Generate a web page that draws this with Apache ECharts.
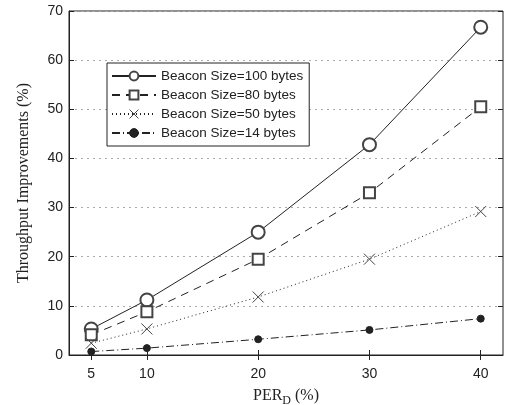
<!DOCTYPE html>
<html><head><meta charset="utf-8">
<script src="https://cdn.jsdelivr.net/npm/echarts@6/dist/echarts.min.js"></script>
<style>html,body{margin:0;padding:0;background:#fff}#c{width:505px;height:405px}</style>
</head><body><div id="c"></div>
<script>
const per = [5, 10, 20, 30, 40];
const xTicks = [5, 10, 20, 30, 40];
const yTicks = [0, 10, 20, 30, 40, 50, 60, 70];
const names = ['Beacon Size=100 bytes', 'Beacon Size=80 bytes', 'Beacon Size=50 bytes', 'Beacon Size=14 bytes'];
const b100 = [5.3, 11.2, 25.0, 42.8, 66.7];
const b80 = [4.1, 8.8, 19.5, 33.0, 50.5];
const b50 = [2.4, 5.3, 11.8, 19.5, 29.2];
const b14 = [0.7, 1.4, 3.2, 5.1, 7.4];

const chart = echarts.init(document.getElementById('c'), null, {renderer: 'canvas'});
const ink = '#222';
function pts(v){ return per.map((x,i)=>[x, v[i]]); }
const xPath = 'path://M0,0L10,10M10,0L0,10';
chart.setOption({
  animation: false,
  backgroundColor: '#fff',
  grid: {left: 69, right: 2, top: 11, bottom: 50, show: true, borderColor: ink, borderWidth: 1,
         containLabel: false, outerBoundsMode: 'none'},
  legend: {
    orient: 'vertical', left: 107, top: 63,
    backgroundColor: '#fff', borderColor: ink, borderWidth: 1,
    padding: [6, 6, 6, 4], itemGap: 5, itemWidth: 44, itemHeight: 11,
    itemStyle: {borderWidth: 1},
    textStyle: {fontFamily: 'Liberation Sans', fontSize: 13.5, color: ink},
    data: names
  },
  xAxis: [{
    type: 'value', min: 3, max: 42,
    axisLine: {lineStyle: {color: ink}},
    axisTick: {inside: true, length: 5, lineStyle: {color: ink}, customValues: xTicks},
    axisLabel: {customValues: xTicks, fontFamily: 'Liberation Sans', fontSize: 14, color: ink, margin: 12},
    splitLine: {show: false},
    name: 'PER{sub|D} (%)', nameLocation: 'middle', nameGap: 30,
    nameTextStyle: {fontFamily: 'Liberation Serif', fontSize: 16, color: ink,
      rich: {sub: {fontFamily: 'Liberation Serif', fontSize: 12, color: ink, verticalAlign: 'bottom', padding: [10,0,0,0]}}}
  }, {
    type: 'value', min: 3, max: 42, position: 'top',
    axisLine: {show: false},
    axisTick: {inside: true, length: 5, lineStyle: {color: ink}, customValues: xTicks},
    axisLabel: {show: false}, splitLine: {show: false}
  }],
  yAxis: [{
    type: 'value', min: 0, max: 70, interval: 10,
    axisLine: {show: true, lineStyle: {color: ink}},
    axisTick: {show: true, inside: true, length: 5, lineStyle: {color: ink}},
    axisLabel: {fontFamily: 'Liberation Sans', fontSize: 14, color: ink, margin: 6},
    splitLine: {show: true, lineStyle: {color: '#aaa', type: [2, 4], width: 1}},
    name: 'Throughput Improvements (%)', nameLocation: 'middle', nameGap: 37,
    nameTextStyle: {fontFamily: 'Liberation Serif', fontSize: 16, color: ink}
  }, {
    type: 'value', min: 0, max: 70, interval: 10, position: 'right',
    axisLine: {show: false},
    axisTick: {show: true, inside: true, length: 5, lineStyle: {color: ink}},
    axisLabel: {show: false}, splitLine: {show: false}
  }],
  series: [
    {name: names[0], type: 'line', data: pts(b100), symbol: 'emptyCircle', symbolSize: 13,
     lineStyle: {color: ink, width: 1, type: 'solid'}, itemStyle: {color: '#444', borderColor: '#444', borderWidth: 1}},
    {name: names[1], type: 'line', data: pts(b80), symbol: 'emptyRect', symbolSize: 11,
     lineStyle: {color: ink, width: 1, type: [8, 6]}, itemStyle: {color: '#444', borderColor: '#444', borderWidth: 1}},
    {name: names[2], type: 'line', data: pts(b50), symbol: xPath, symbolSize: 11,
     lineStyle: {color: ink, width: 1, type: [1, 3]}, itemStyle: {color: 'rgba(0,0,0,0)', borderColor: '#444', borderWidth: 1}},
    {name: names[3], type: 'line', data: pts(b14), symbol: 'circle', symbolSize: 7,
     lineStyle: {color: ink, width: 1, type: [8, 3, 1, 3]}, itemStyle: {color: ink, borderColor: ink, borderWidth: 1}}
  ]
});
</script></body></html>
